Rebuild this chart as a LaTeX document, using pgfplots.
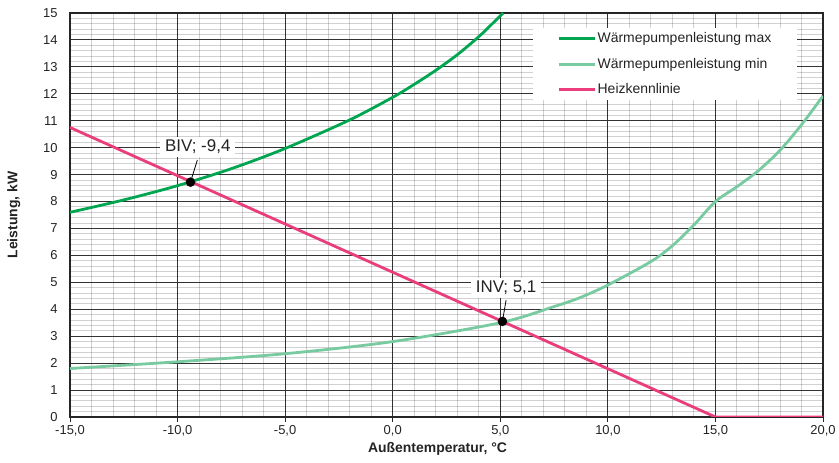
\documentclass[border=0pt]{standalone}
\usepackage{pgfplots}
\pgfplotsset{compat=1.18}
\usepackage{fontspec}
\setmainfont{Liberation Sans}
\definecolor{gmax}{RGB}{0,165,80}
\definecolor{gmin}{RGB}{120,202,160}
\definecolor{pink}{RGB}{234,62,124}
\definecolor{txt}{RGB}{35,35,35}
\begin{document}
\begin{tikzpicture}
\begin{axis}[
  scale only axis,
  width=753bp, height=404bp,
  xmin=-15, xmax=20, ymin=0, ymax=15,
  xtick={-15,-10,...,20},
  ytick={0,1,...,15},
  minor x tick num=4,
  minor y tick num=4,
  grid=both,
  major grid style={draw=black!80, line width=0.9bp},
  minor grid style={draw=black!18, line width=0.9bp, blend mode=multiply},
  axis line style={draw=black!85, line width=1.3bp},
  tick align=outside,
  major tick length=5bp,
  minor tick length=0pt,
  xtick pos=bottom,
  ytick style={draw=none},
  xtick style={draw=black!85, line width=0.9bp},
  /pgf/number format/assume math mode=true,
  xticklabel style={/pgf/number format/.cd, fixed, fixed zerofill, precision=1, use comma},
  xticklabel={\pgfmathprintnumber{\tick}},
  ticklabel style={font=\fontsize{13}{15}\selectfont, text=txt},
  yticklabel style={xshift=-4bp},
  xlabel={Außentemperatur, °C},
  ylabel={Leistung, kW},
  label style={font=\bfseries\fontsize{14}{16}\selectfont, text=txt},
  xlabel style={yshift=1bp, xshift=-9bp},
  ylabel style={yshift=16bp},
  legend style={at={(0.9655,0.963)}, anchor=north east, draw=none, fill=white,
    font=\fontsize{14}{16}\selectfont, text=txt, row sep=10bp,
    inner xsep=24bp, inner ysep=2.5bp, nodes={inner xsep=1.5bp}},
  legend cell align=left,
  legend image code/.code={\draw[#1, line width=3bp] (0bp,0bp) -- (36bp,0bp);},
]
\addplot[gmax, line width=2.8bp, smooth] coordinates {
 (-15,7.6) (-12.5,8.06) (-10,8.59) (-7.5,9.22) (-5,9.97) (-2,11.03) (0,11.87) (1,12.35) (2,12.87) (3,13.45) (4,14.12) (4.6,14.58) (5.13,15.0)};
\addlegendentry{Wärmepumpenleistung max}
\addplot[gmin, line width=2.8bp, smooth] coordinates {
 (-15,1.8) (-10,2.05) (-5,2.35) (0,2.8) (5,3.5) (7.5,4.1) (8.7,4.43) (10,4.9) (12,5.77) (13,6.36) (14,7.13) (15,8.0) (16,8.55) (17,9.15) (18,9.9) (19,10.85) (20,11.92)};
\addlegendentry{Wärmepumpenleistung min}
\addplot[pink, line width=2.8bp] coordinates {(-15,10.75) (15,0) (20,0)};
\addlegendentry{Heizkennlinie}
\addplot[black, line width=0.8bp, forget plot] coordinates {(-9.4,8.72) (-9.08,9.54)};
\addplot[black, line width=0.8bp, forget plot] coordinates {(5.1,3.55) (5.27,4.34)};
\addplot[only marks, mark=*, mark size=4.5bp, black, forget plot] coordinates {(-9.4,8.72) (5.1,3.55)};
\node[fill=white, text=txt, font=\fontsize{17}{19}\selectfont, inner xsep=5bp, inner ysep=3bp] at (axis cs:-9.06,10.03) {BIV; -9,4};
\node[fill=white, text=txt, font=\fontsize{17}{19}\selectfont, inner xsep=5bp, inner ysep=3bp] at (axis cs:5.27,4.79) {INV; 5,1};
\end{axis}
\pgfresetboundingbox
\path (current axis.south west) ++(-70bp,-46bp) rectangle ++(839bp,463bp);
\end{tikzpicture}
\end{document}
